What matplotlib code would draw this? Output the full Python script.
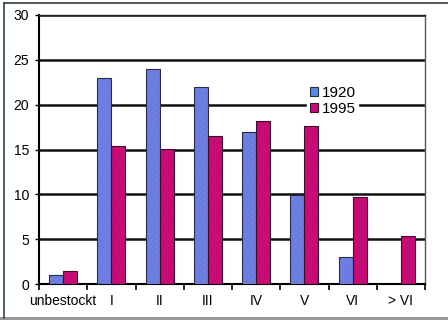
import matplotlib
matplotlib.use("Agg")
import matplotlib.pyplot as plt
import numpy as np
from matplotlib.lines import Line2D
from matplotlib.patches import Rectangle

plt.rcParams['font.family'] = ['Liberation Sans', 'DejaVu Sans']
plt.rcParams['hatch.linewidth'] = 0.8

categories = ["unbestockt", "I", "II", "III", "IV", "V", "VI", "> VI"]
values_1920 = [1.0, 23.0, 24.0, 22.0, 16.9, 9.9, 3.0, 0.0]
values_1995 = [1.45, 15.4, 15.1, 16.5, 18.2, 17.6, 9.7, 5.3]
series_labels = ["1920", "1995"]
y_ticks = [0, 5, 10, 15, 20, 25, 30]

fig = plt.figure(figsize=(4.48, 3.2), dpi=100)
fig.patch.set_facecolor("white")

# outer frame of the figure
fig.add_artist(Line2D([4/448, 4/448], [2/320, 317/320], transform=fig.transFigure,
                      color="#2f4a4a", lw=1.2))
fig.add_artist(Line2D([4/448, 1.0], [317/320, 317/320], transform=fig.transFigure,
                      color="#2f3a3a", lw=1.2))
fig.add_artist(Rectangle((0, 0), 1, 3/320, transform=fig.transFigure,
                         color="#9a9a9a", lw=0))

ax = fig.add_axes([39/448, 36/320, 386/448, 269/320])
x = np.arange(len(categories))
w = 0.29

ax.bar(x - w/2, values_1920, w, facecolor="#5a8ae6", edgecolor="#9b5fd6",
       hatch="//////", linewidth=0, zorder=3)
ax.bar(x - w/2, values_1920, w, facecolor="none", edgecolor="#2a2a40",
       linewidth=0.8, zorder=4)
ax.bar(x + w/2, values_1995, w, facecolor="#cc0a78", edgecolor="#b8106e",
       hatch="//////", linewidth=0, zorder=3)
ax.bar(x + w/2, values_1995, w, facecolor="none", edgecolor="#3a1028",
       linewidth=0.8, zorder=4)

ax.set_xlim(-0.5, len(categories) - 0.5)
ax.set_ylim(0, 30)
ax.set_yticks(y_ticks)
ax.set_yticklabels([str(t) for t in y_ticks], fontsize=10)
ax.yaxis.grid(True, color="#111111", linewidth=1.8, zorder=1)
ax.set_axisbelow(True)

ax.set_xticks(x)
ax.set_xticklabels(categories, fontsize=10)
ax.tick_params(axis="x", length=0, pad=7)
ax.set_xticks(np.arange(len(categories) + 1) - 0.5, minor=True)
ax.tick_params(axis="x", which="minor", length=4, width=1.2, direction="out")
ax.tick_params(axis="y", length=3, width=1.0, pad=4)

ax.spines["left"].set_linewidth(1.5)
ax.spines["bottom"].set_linewidth(1.5)
ax.spines["top"].set_linewidth(1.0)
ax.spines["top"].set_color("#222222")
ax.spines["right"].set_linewidth(1.0)
ax.spines["right"].set_color("#555555")

legend_handles = [
    Rectangle((0, 0), 1, 1, facecolor="#5a8ae6", edgecolor="#2a2a40", lw=0.8),
    Rectangle((0, 0), 1, 1, facecolor="#cc0a78", edgecolor="#3a1028", lw=0.8),
]
leg = ax.legend(legend_handles, series_labels, loc="upper left",
                bbox_to_anchor=(0.695, 0.745), frameon=True, fontsize=11,
                handlelength=0.55, handleheight=0.55, handletextpad=0.25,
                labelspacing=0.15, borderpad=0.15, borderaxespad=0)
leg.get_frame().set_facecolor("white")
leg.get_frame().set_edgecolor("white")
leg.get_frame().set_alpha(1)
leg.set_zorder(5)

fig.savefig("out.png", dpi=100, facecolor="white")
